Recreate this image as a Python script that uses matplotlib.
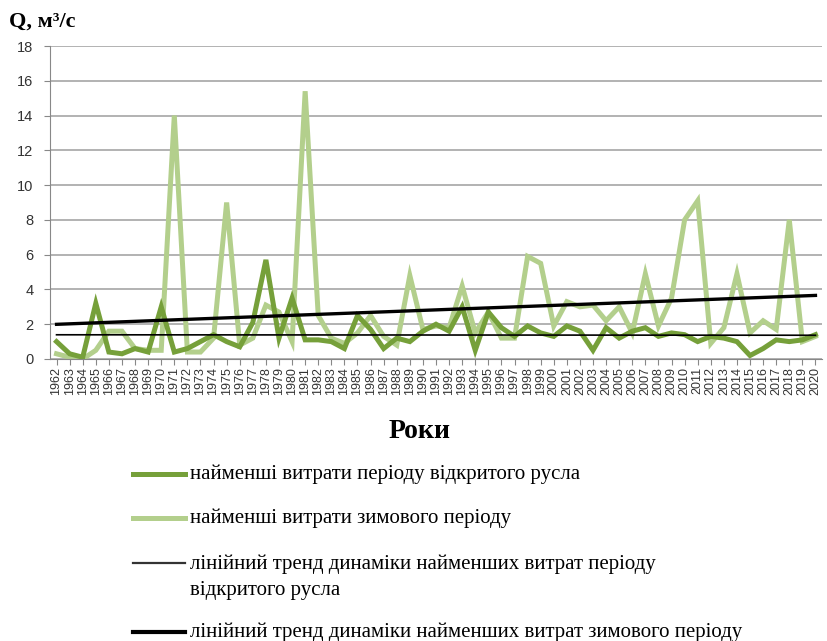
import numpy as np
import matplotlib.pyplot as plt
from matplotlib.lines import Line2D

years = list(range(1962, 2021))

# найменші витрати періоду відкритого русла, м3/с
q_open = [1.0, 0.3, 0.1, 3.2, 0.4, 0.3, 0.6, 0.4, 3.0, 0.4,
          0.6, 1.0, 1.4, 1.0, 0.7, 2.1, 5.7, 1.2, 3.5, 1.1,
          1.1, 1.0, 0.6, 2.5, 1.7, 0.6, 1.2, 1.0, 1.6, 2.0,
          1.6, 3.0, 0.5, 2.7, 1.8, 1.3, 1.9, 1.5, 1.3, 1.9,
          1.6, 0.5, 1.8, 1.2, 1.6, 1.8, 1.3, 1.5, 1.4, 1.0,
          1.3, 1.2, 1.0, 0.2, 0.6, 1.1, 1.0, 1.1, 1.4]

# найменші витрати зимового періоду, м3/с
q_winter = [0.3, 0.1, 0.0, 0.5, 1.6, 1.6, 0.6, 0.5, 0.5, 14.0,
            0.4, 0.4, 1.2, 9.0, 0.8, 1.2, 3.1, 2.7, 1.0, 15.4,
            2.5, 1.2, 0.9, 1.5, 2.5, 1.3, 0.8, 4.8, 1.7, 1.9,
            1.8, 4.2, 1.5, 2.7, 1.2, 1.2, 5.9, 5.5, 1.9, 3.3,
            3.0, 3.1, 2.2, 3.0, 1.5, 4.9, 1.9, 3.5, 8.0, 9.1,
            0.9, 1.8, 4.9, 1.5, 2.2, 1.7, 8.0, 1.0, 1.3]

labels = ["найменші витрати періоду відкритого русла",
          "найменші витрати зимового періоду",
          "лінійний тренд динаміки найменших витрат періоду\nвідкритого русла",
          "лінійний тренд динаміки найменших витрат зимового періоду"]

c_open = "#76a03a"
c_winter = "#b3cf8c"

fig = plt.figure(figsize=(8.27, 6.41), dpi=100)
ax = fig.add_axes([50 / 827, 282 / 641, 772 / 827, 313 / 641])

x = np.arange(len(years))
ax.plot(x, q_winter, color=c_winter, lw=3.6, solid_joinstyle="miter", zorder=2)
ax.plot(x, q_open, color=c_open, lw=3.6, solid_joinstyle="miter", zorder=3)

# linear trends (like Excel trendline)
k1, b1 = np.polyfit(x, q_open, 1)
k2, b2 = np.polyfit(x, q_winter, 1)
ax.plot(x, k1 * x + b1, color="black", lw=1.2, zorder=4)
ax.plot(x, k2 * x + b2, color="black", lw=2.4, zorder=4)

ax.set_xlim(-0.5, len(years) - 0.5)
ax.set_ylim(0, 18)
ax.set_yticks(range(0, 19, 2))
ax.set_xticks(x)
ax.set_xticklabels(years, rotation=90, fontsize=9, family="Liberation Sans",
                   color="#333333")
ax.tick_params(axis="y", length=4, labelsize=10.5, color="#888888", pad=8,
               labelcolor="#333333")
ax.tick_params(axis="x", length=4, color="#888888", pad=2)
for lab in ax.get_yticklabels():
    lab.set_family("Liberation Sans")

ax.grid(axis="y", color="#a6a6a6", lw=1.2, zorder=0)
for s in ["top", "right"]:
    ax.spines[s].set_visible(False)
ax.spines["left"].set_color("#888888")
ax.spines["bottom"].set_color("#888888")

fig.text(9 / 827, 1 - 22 / 641, "Q, м³/с", fontsize=16, fontweight="bold",
         family="Liberation Serif", va="center")
fig.text(420 / 827, 1 - 432 / 641, "Роки", fontsize=20, fontweight="bold",
         family="Liberation Serif", ha="center", va="center")

# legend drawn by hand below the chart
rows = [474, 518, 563, 632]
handles = [(c_open, 3.6), (c_winter, 3.6), ("#333333", 1.6), ("black", 3.0)]
for yy, (col, w), lab in zip(rows, handles, labels):
    fy = 1 - yy / 641
    fig.add_artist(Line2D([133 / 827, 185 / 827], [fy, fy], color=col, lw=w,
                          transform=fig.transFigure))
    if "\n" in lab:
        fig.text(190 / 827, fy + 9 / 641, lab, fontsize=15,
                 family="Liberation Serif", va="top", linespacing=1.55)
    else:
        fig.text(190 / 827, fy, lab, fontsize=15, family="Liberation Serif",
                 va="center")

fig.savefig("out.png", dpi=100)
